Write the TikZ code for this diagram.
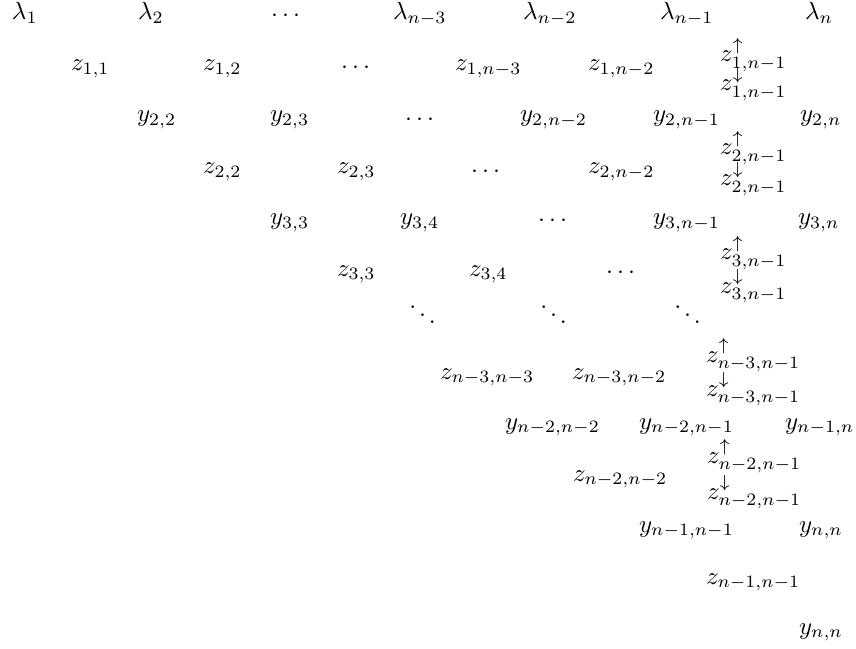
\documentclass[tikz,border=0pt]{standalone}
\usepackage{amsmath}
\begin{document}
\begin{tikzpicture}[x=0.4016pt,y=-0.4016pt,
  m/.style={anchor=base west,inner sep=0pt,outer sep=0pt}]
\useasboundingbox (0,0) rectangle (856,649);
% row of eigenvalues
\node[m] (l1) at (12,20) {$\lambda_1$};
\node[m] (l2) at (138,20) {$\lambda_2$};
\node[m] (l3) at (271,22) {$\cdots$};
\node[m] (l4) at (393,20) {$\lambda_{n-3}$};
\node[m] (l5) at (523,20) {$\lambda_{n-2}$};
\node[m] (l6) at (660,20) {$\lambda_{n-1}$};
\node[m] (l7) at (805,20) {$\lambda_n$};
% z row 1
\node[m] (za1) at (71,71) {$z_{1,1}$};
\node[m] (za2) at (203,71) {$z_{1,2}$};
\node[m] (za3) at (341,74) {$\cdots$};
\node[m] (za4) at (455,71) {$z_{1,n-3}$};
\node[m] (za5) at (588,71) {$z_{1,n-2}$};
\node[m] (zau) at (720,62) {$z^{\uparrow}_{1,n-1}$};
\node[m] (zad) at (720,91) {$z^{\downarrow}_{1,n-1}$};
% y row 2
\node[m] (yb1) at (137,122) {$y_{2,2}$};
\node[m] (yb2) at (270,122) {$y_{2,3}$};
\node[m] (yb3) at (405,126) {$\cdots$};
\node[m] (yb4) at (520,122) {$y_{2,n-2}$};
\node[m] (yb5) at (653,122) {$y_{2,n-1}$};
\node[m] (yb6) at (800,122) {$y_{2,n}$};
% z row 2
\node[m] (zb1) at (203,174) {$z_{2,2}$};
\node[m] (zb2) at (337,174) {$z_{2,3}$};
\node[m] (zb3) at (471,178) {$\cdots$};
\node[m] (zb4) at (588,174) {$z_{2,n-2}$};
\node[m] (zbu) at (720,155) {$z^{\uparrow}_{2,n-1}$};
\node[m] (zbd) at (720,186) {$z^{\downarrow}_{2,n-1}$};
% y row 3
\node[m] (yc1) at (270,225) {$y_{3,3}$};
\node[m] (yc2) at (400,225) {$y_{3,4}$};
\node[m] (yc3) at (538,227) {$\cdots$};
\node[m] (yc4) at (653,225) {$y_{3,n-1}$};
\node[m] (yc5) at (798,225) {$y_{3,n}$};
% z row 3
\node[m] (zc1) at (337,276) {$z_{3,3}$};
\node[m] (zc2) at (469,276) {$z_{3,4}$};
\node[m] (zc3) at (606,279) {$\cdots$};
\node[m] (zcu) at (720,260) {$z^{\uparrow}_{3,n-1}$};
\node[m] (zcd) at (720,293) {$z^{\downarrow}_{3,n-1}$};
% diagonal dots
\node[m] (dd1) at (408,326) {$\ddots$};
\node[m] (dd2) at (539,326) {$\ddots$};
\node[m] (dd3) at (673,326) {$\ddots$};
% z row n-3
\node[m] (zd1) at (440,379) {$z_{n-3,n-3}$};
\node[m] (zd2) at (572,379) {$z_{n-3,n-2}$};
\node[m] (zdu) at (706,362) {$z^{\uparrow}_{n-3,n-1}$};
\node[m] (zdd) at (706,396) {$z^{\downarrow}_{n-3,n-1}$};
% y row n-2
\node[m] (ye1) at (505,429) {$y_{n-2,n-2}$};
\node[m] (ye2) at (639,429) {$y_{n-2,n-1}$};
\node[m] (ye3) at (785,429) {$y_{n-1,n}$};
% z row n-2
\node[m] (ze1) at (573,481) {$z_{n-2,n-2}$};
\node[m] (zeu) at (707,463) {$z^{\uparrow}_{n-2,n-1}$};
\node[m] (zed) at (707,499) {$z^{\downarrow}_{n-2,n-1}$};
% y row n-1
\node[m] (yf1) at (639,532) {$y_{n-1,n-1}$};
\node[m] (yf2) at (799,532) {$y_{n,n}$};
% z row n-1
\node[m] (zf1) at (706,584) {$z_{n-1,n-1}$};
% last y
\node[m] (yg1) at (799,634) {$y_{n,n}$};
\end{tikzpicture}
\end{document}
